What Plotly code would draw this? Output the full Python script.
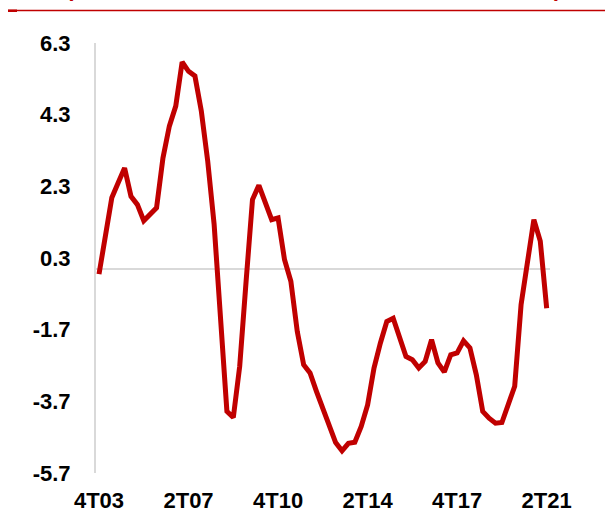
import plotly.graph_objects as go

quarters = [
    "4T03",
    "1T04", "2T04", "3T04", "4T04",
    "1T05", "2T05", "3T05", "4T05",
    "1T06", "2T06", "3T06", "4T06",
    "1T07", "2T07", "3T07", "4T07",
    "1T08", "2T08", "3T08", "4T08",
    "1T09", "2T09", "3T09", "4T09",
    "1T10", "2T10", "3T10", "4T10",
    "1T11", "2T11", "3T11", "4T11",
    "1T12", "2T12", "3T12", "4T12",
    "1T13", "2T13", "3T13", "4T13",
    "1T14", "2T14", "3T14", "4T14",
    "1T15", "2T15", "3T15", "4T15",
    "1T16", "2T16", "3T16", "4T16",
    "1T17", "2T17", "3T17", "4T17",
    "1T18", "2T18", "3T18", "4T18",
    "1T19", "2T19", "3T19", "4T19",
    "1T20", "2T20", "3T20", "4T20",
    "1T21", "2T21",
]

values = [
    -0.15, 0.90, 1.98, 2.40, 2.81, 2.02, 1.79, 1.34, 1.52, 1.70,
    3.09, 3.98, 4.54, 5.77, 5.51, 5.38, 4.40, 3.00, 1.24, -1.47,
    -3.98, -4.15, -2.72, -0.35, 1.93, 2.33, 1.88, 1.37, 1.42, 0.26,
    -0.35, -1.75, -2.68, -2.91, -3.42, -3.90, -4.38, -4.85, -5.08, -4.87,
    -4.84, -4.40, -3.80, -2.77, -2.07, -1.47, -1.38, -1.93, -2.45, -2.54,
    -2.77, -2.59, -1.98, -2.63, -2.88, -2.40, -2.35, -2.01, -2.21, -2.96,
    -3.98, -4.17, -4.31, -4.29, -3.80, -3.28, -1.00, 0.21, 1.37, 0.77,
    -1.10,
]

x_tick_labels = ["4T03", "2T07", "4T10", "2T14", "4T17", "2T21"]
y_tick_values = [-5.7, -3.7, -1.7, 0.3, 2.3, 4.3, 6.3]
y_tick_labels = ["-5.7", "-3.7", "-1.7", "0.3", "2.3", "4.3", "6.3"]

RED = "#C00000"
GRID = "#D9D9D9"
FONT = dict(family="Liberation Sans, Arial, sans-serif", size=22, color="black", weight="bold")

fig = go.Figure()
fig.add_trace(go.Scatter(
    x=quarters, y=values, mode="lines",
    line=dict(color=RED, width=5),
    hoverinfo="x+y",
))

fig.update_layout(
    width=605, height=512,
    margin=dict(l=96, r=55, t=43, b=39),
    plot_bgcolor="white", paper_bgcolor="white",
    showlegend=False,
    font=FONT,
)
fig.update_xaxes(
    type="category",
    categoryorder="array", categoryarray=quarters,
    range=[-0.47, 70.52],
    tickmode="array", tickvals=x_tick_labels, ticktext=x_tick_labels,
    showline=False, showgrid=False, zeroline=False, ticks="",
    tickfont=FONT, ticklabelstandoff=12, automargin=False,
)
fig.update_yaxes(
    range=[-5.7, 6.3],
    tickmode="array", tickvals=y_tick_values, ticktext=y_tick_labels,
    showline=True, linecolor=GRID, linewidth=2,
    showgrid=False, zeroline=True, zerolinecolor=GRID, zerolinewidth=2,
    ticks="", tickfont=FONT, ticklabelstandoff=19, automargin=False,
)

# top rule (partially visible header)
fig.add_shape(type="line", xref="paper", yref="paper",
              x0=(8 - 96) / 454, x1=(605 - 96) / 454,
              y0=(473 - 10.5) / 430, y1=(473 - 10.5) / 430,
              line=dict(color=RED, width=1.5))
fig.add_shape(type="rect", xref="paper", yref="paper",
              x0=(8 - 96) / 454, x1=(17 - 96) / 454,
              y0=(473 - 12) / 430, y1=(473 - 9.5) / 430,
              line=dict(width=0), fillcolor=RED)
# subtitle parentheses, mostly cut off above the window (as in the reference)
for txt, px in (("(", 70), (")", 557)):
    fig.add_annotation(text=txt, xref="paper", yref="paper",
                       x=(px - 96) / 454, y=(473 - 3.5) / 430,
                       xanchor="center", yanchor="bottom", showarrow=False,
                       font=dict(family="Liberation Sans, Arial, sans-serif",
                                 size=22, color=RED, weight="bold"))

fig.write_html("out.html")
